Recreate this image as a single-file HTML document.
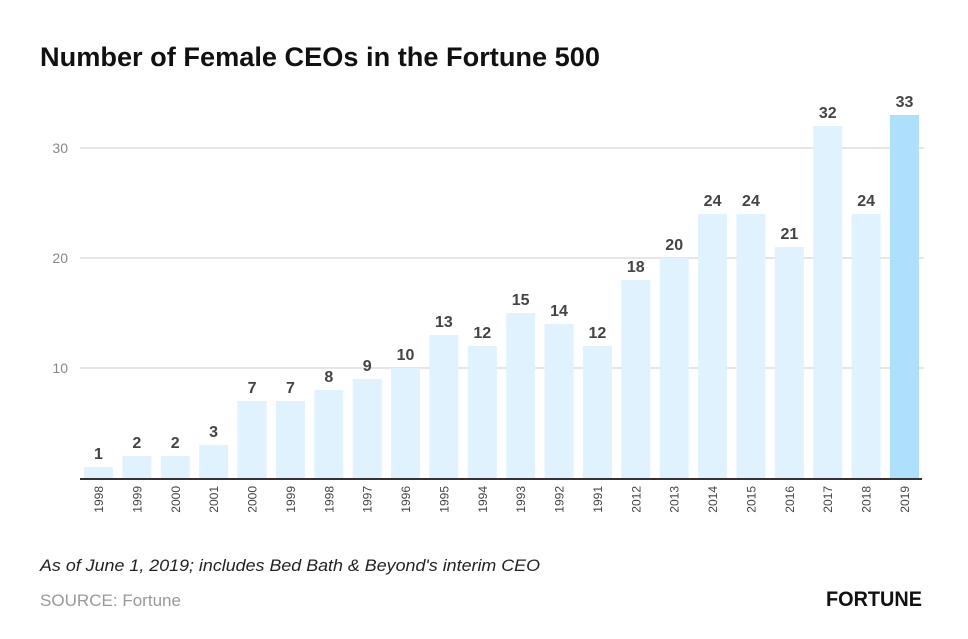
<!DOCTYPE html>
<html><head><meta charset="utf-8"><style>
body{margin:0;background:#fff;width:968px;height:634px;overflow:hidden;font-family:"Liberation Sans",sans-serif}
</style></head><body>
<svg width="968" height="634">
<text x="40" y="66" font-size="27" font-weight="bold" fill="#111" textLength="560" lengthAdjust="spacingAndGlyphs">Number of Female CEOs in the Fortune 500</text>
<g id="grid"></g><g id="bars"></g>
<text x="40" y="571" font-size="17" font-style="italic" fill="#222" textLength="500" lengthAdjust="spacingAndGlyphs">As of June 1, 2019; includes Bed Bath &amp; Beyond's interim CEO</text>
<text x="40" y="606" font-size="17" fill="#999" textLength="141" lengthAdjust="spacingAndGlyphs">SOURCE: Fortune</text>
<text x="922" y="606" font-size="21" font-weight="bold" fill="#111" text-anchor="end" textLength="96" lengthAdjust="spacingAndGlyphs">FORTUNE</text>
</svg>
<script>
const categories=["1998","1999","2000","2001","2000","1999","1998","1997","1996","1995","1994","1993","1992","1991","2012","2013","2014","2015","2016","2017","2018","2019"];
const values=[1,2,2,3,7,7,8,9,10,13,12,15,14,12,18,20,24,24,21,32,24,33];
const yTicks=[10,20,30];
const NS="http://www.w3.org/2000/svg";
const y=v=>478-v*11;
const x=i=>84+i*38.38;
const grid=document.getElementById('grid'),bars=document.getElementById('bars');
function mk(tag,a,p){const e=document.createElementNS(NS,tag);for(const k in a)e.setAttribute(k,a[k]);p.appendChild(e);return e;}
yTicks.forEach(t=>{
 const l=mk('line',{x1:80,x2:924,y1:y(t),y2:y(t),stroke:'#ccc','stroke-width':1},grid);
 
 
 const tx=mk('text',{x:68,y:y(t)+5,'font-size':14,fill:'#888','text-anchor':'end'},grid);
 tx.textContent=t;
 
 
});
values.forEach((v,i)=>{
 const last=i===values.length-1;
 const r=mk('rect',{x:x(i),y:y(v),width:29,height:v*11,fill:last?'#aee0fb':'#dff2fd'},bars);
 
 
 const t=mk('text',{x:x(i)+14.5,y:y(v)-8,'font-size':16,fill:'#444','text-anchor':'middle','font-weight':'bold'},bars);
 t.textContent=v;
 
 
 const c=mk('text',{transform:`translate(${x(i)+19},486) rotate(-90)`,'font-size':12,fill:'#444','text-anchor':'end'},bars);
 c.textContent=categories[i];
 
 
});
const ax=mk('line',{x1:80,x2:922,y1:479,y2:479,stroke:'#333','stroke-width':2},bars);


</script>
</body></html>
